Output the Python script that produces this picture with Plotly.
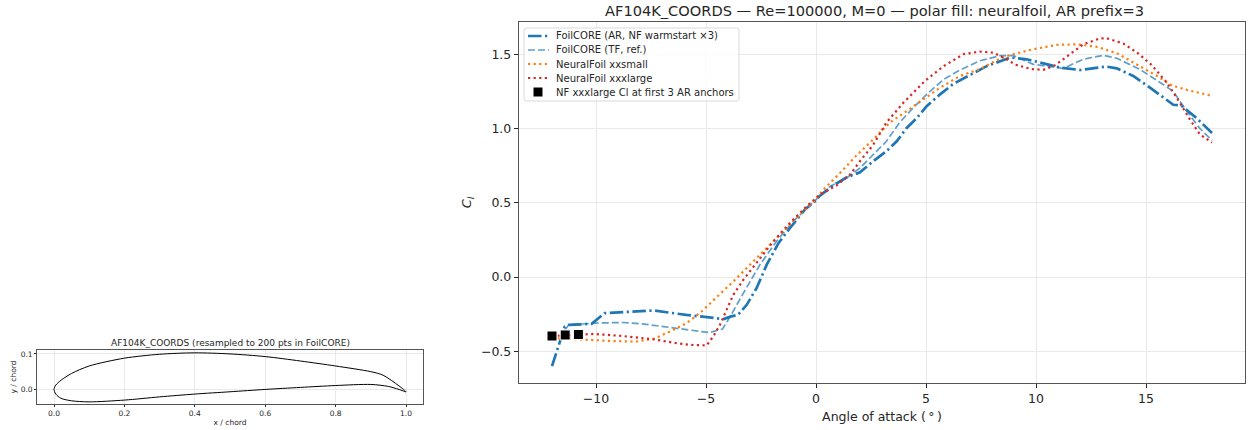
import plotly.graph_objects as go

ar_a = [-12,-11.42,-11.24,-10.2,-9.6,-8.5,-7.4,-5.9,-4.6,-4.2,-3.85,-3.55,-3.15,-2.7,-2.24,-1.7,-1.18,-0.5,-0.05,0.18,0.79,1.39,2.0,2.6,3.2,3.67,4.1,4.58,5.03,5.64,6.24,7,7.76,8.5,8.82,9.58,10.33,11.1,12,13.2,13.67,14.42,15.18,15.8,16.24,16.6,17.3,18]
ar_c = [-0.6,-0.333,-0.322,-0.315,-0.243,-0.233,-0.225,-0.255,-0.275,-0.283,-0.265,-0.255,-0.187,-0.074,0.083,0.23,0.33,0.455,0.51,0.548,0.617,0.671,0.705,0.78,0.847,0.914,1.0,1.07,1.15,1.23,1.30,1.36,1.42,1.46,1.478,1.466,1.437,1.41,1.394,1.417,1.405,1.354,1.275,1.207,1.16,1.155,1.07,0.97]
tf_a = [-11.42,-11.24,-10.06,-8.8,-7.9,-6.8,-5.75,-4.85,-4.25,-3.9,-3.3,-2.55,-1.8,-1.03,-0.12,0.64,1.39,2.0,2.6,3.2,3.8,4.42,5.03,5.8,6.5,7.45,8.36,8.97,9.88,11.24,12.15,13.06,13.67,14.7,15.64,16.24,16.85,17.45,18]
tf_c = [-0.36,-0.322,-0.31,-0.306,-0.315,-0.338,-0.36,-0.374,-0.35,-0.266,-0.108,0.083,0.24,0.376,0.505,0.61,0.667,0.734,0.824,0.914,1.04,1.14,1.23,1.33,1.39,1.456,1.49,1.49,1.432,1.405,1.466,1.493,1.473,1.4,1.31,1.25,1.117,1.0,0.92]
xs_a = [-12,-10.8,-9.4,-8.2,-7.35,-6.64,-5.88,-5.2,-4.44,-3.68,-3,-2.32,-1.48,-0.73,-0.12,0.33,1.09,1.85,2.6,3.36,4.12,4.88,5.64,6.55,7.45,8.36,8.82,9.88,10.94,11.85,12.76,13.67,14.58,15.5,16.17,16.85,18]
xs_c = [-0.41,-0.42,-0.43,-0.435,-0.415,-0.367,-0.31,-0.232,-0.126,-0.018,0.083,0.185,0.31,0.42,0.505,0.588,0.70,0.82,0.926,1.04,1.117,1.196,1.275,1.354,1.40,1.47,1.495,1.534,1.563,1.567,1.55,1.507,1.43,1.354,1.29,1.26,1.22]
xl_a = [-12,-10.1,-8.8,-7.35,-6.4,-5.73,-4.97,-4.67,-4.36,-4.06,-3.76,-3.3,-2.7,-1.94,-1.18,-0.42,0.18,0.94,1.55,2,2.6,3.2,3.97,4.95,5.8,6.7,7.45,8.06,8.8,9.05,9.8,10.33,10.86,11.55,12.15,12.9,13.2,13.97,14.65,15.26,15.94,16.4,17,17.45,18]
xl_c = [-0.397,-0.383,-0.397,-0.42,-0.444,-0.457,-0.46,-0.4,-0.32,-0.22,-0.12,-0.018,0.095,0.24,0.365,0.477,0.555,0.617,0.69,0.78,0.89,1.04,1.173,1.32,1.42,1.5,1.518,1.51,1.455,1.43,1.40,1.395,1.425,1.5,1.567,1.606,1.608,1.572,1.505,1.427,1.31,1.207,1.06,0.96,0.905]
anchor_a = [-12,-11.4,-10.8]
anchor_c = [-0.397,-0.39,-0.387]
foil_x = [1.0,0.98,0.935,0.9,0.8,0.7,0.6,0.5,0.4,0.3,0.2,0.1,0.05,0.02,0.005,0.0,0.005,0.02,0.05,0.1,0.2,0.3,0.4,0.5,0.6,0.7,0.8,0.9,0.95,0.98,1.0]
foil_y = [-0.0066,0.01,0.04,0.05,0.066,0.08,0.0925,0.10,0.103,0.099,0.088,0.066,0.045,0.026,0.012,0.0,-0.013,-0.025,-0.032,-0.035,-0.03,-0.021,-0.013,-0.0066,0.0,0.0057,0.011,0.014,0.0085,0.0,-0.0066]
legend_labels = ["FoilCORE (AR, NF warmstart ×3)", "FoilCORE (TF, ref.)", "NeuralFoil xxsmall", "NeuralFoil xxxlarge", "NF xxxlarge Cl at first 3 AR anchors"]

W, H = 1249, 430
FONT = "DejaVu Sans"
INK = "#262626"
SPINE = "#555555"
GRID = "#e9e9e9"
AR = dict(color="#1f77b4", width=2.7, dash="13.5px,3.5px,2.2px,3.5px")
TF = dict(color="#1f77b4", width=1.7, dash="7px,3px")
XS = dict(color="#ff7f0e", width=2.2, dash="2.2px,3.4px")
XL = dict(color="#d62728", width=2.2, dash="2.2px,3.4px")

fig = go.Figure()
fig.add_trace(go.Scatter(x=foil_x, y=foil_y, mode="lines", line=dict(color="black", width=1, shape="spline", smoothing=0.8),
                         xaxis="x2", yaxis="y2", showlegend=False))
fig.add_trace(go.Scatter(x=ar_a, y=ar_c, mode="lines", name=legend_labels[0], line=AR, showlegend=False))
fig.add_trace(go.Scatter(x=tf_a, y=tf_c, mode="lines", name=legend_labels[1], opacity=0.7, line=TF, showlegend=False))
fig.add_trace(go.Scatter(x=xs_a, y=xs_c, mode="lines", name=legend_labels[2], line=XS, showlegend=False))
fig.add_trace(go.Scatter(x=xl_a, y=xl_c, mode="lines", name=legend_labels[3], line=XL, showlegend=False))
fig.add_trace(go.Scatter(x=anchor_a, y=anchor_c, mode="markers", name=legend_labels[4], showlegend=False,
                         marker=dict(symbol="square", color="black", size=10, line=dict(color="white", width=1))))

def dom(a, b, total):
    return [a / total, b / total]

def px(x):
    return x / W

def py(y):
    return 1 - y / H

common = dict(showline=True, linecolor=SPINE, mirror=True, ticks="outside", tickcolor=INK,
              showgrid=True, gridcolor=GRID, zeroline=False)

# legend drawn by hand: plotly's own legend cannot set the tight row pitch of the reference
L, R, T, B, C = 524, 739, 28, 101, 2.5
shapes = [dict(type="path", xref="paper", yref="paper", layer="above",
               path=(f"M {px(L+C)} {py(T)} L {px(R-C)} {py(T)} Q {px(R)} {py(T)} {px(R)} {py(T+C)} "
                     f"L {px(R)} {py(B-C)} Q {px(R)} {py(B)} {px(R-C)} {py(B)} L {px(L+C)} {py(B)} "
                     f"Q {px(L)} {py(B)} {px(L)} {py(B-C)} L {px(L)} {py(T+C)} Q {px(L)} {py(T)} {px(L+C)} {py(T)} Z"),
               line=dict(color="#d9d9d9", width=1), fillcolor="rgba(255,255,255,0.8)")]
rows = [36, 50, 64, 78, 92]
for yy, st, op in zip(rows[:4], [AR, TF, XS, XL], [1, 0.7, 1, 1]):
    shapes.append(dict(type="line", xref="paper", yref="paper", layer="above", x0=px(528), x1=px(549), y0=py(yy), y1=py(yy),
                       opacity=op, line=dict(color=st["color"], width=st["width"], dash=st["dash"])))
shapes.append(dict(type="rect", xref="paper", yref="paper", layer="above", x0=px(533.5), x1=px(542.5), y0=py(96.5), y1=py(87.5),
                   fillcolor="black", line=dict(color="black", width=0)))
annotations = [
    dict(text="AF104K_COORDS — Re=100000, M=0 — polar fill: neuralfoil, AR prefix=3", x=874 / W, y=py(10),
         xref="paper", yref="paper", xanchor="center", yanchor="middle", showarrow=False, font=dict(size=14.6, family=FONT, color=INK)),
    dict(text="AF104K_COORDS (resampled to 200 pts in FoilCORE)", x=230 / W, y=py(343),
         xref="paper", yref="paper", xanchor="center", yanchor="middle", showarrow=False, font=dict(size=9, family=FONT, color=INK)),
]
for yy, t in zip(rows, legend_labels):
    annotations.append(dict(text=t, x=px(555), y=py(yy), xref="paper", yref="paper", xanchor="left", yanchor="middle",
                            showarrow=False, borderpad=0, font=dict(size=10, family=FONT, color=INK)))

fig.update_layout(
    width=W, height=H, margin=dict(l=0, r=0, t=0, b=0), paper_bgcolor="white", plot_bgcolor="white",
    font=dict(family=FONT, color=INK), showlegend=False, shapes=shapes, annotations=annotations,
    xaxis=dict(domain=dom(519, 1245, W), range=[-13.5, 19.5], tickvals=[-10, -5, 0, 5, 10, 15],
               ticktext=["−10", "−5", "0", "5", "10", "15"], ticklen=4, tickwidth=1, linewidth=1.4,
               gridwidth=1.2, title=dict(text="Angle of attack (\u2009°\u2009)", font=dict(size=12.5), standoff=7),
               tickfont=dict(family=FONT, color=INK, size=12.5), **common),
    yaxis=dict(domain=[py(382.5), py(22.3)], range=[-0.71, 1.715], tickvals=[-0.5, 0, 0.5, 1, 1.5],
               ticktext=["−0.5", "0.0", "0.5", "1.0", "1.5"], ticklen=4, tickwidth=1, linewidth=1.4,
               gridwidth=1.2, title=dict(text="<i>C<sub>l</sub></i>", font=dict(size=13), standoff=6),
               tickfont=dict(family=FONT, color=INK, size=12.5), **common),
    xaxis2=dict(domain=dom(37, 423, W), range=[-0.0483, 1.0483], anchor="y2", tickvals=[0, 0.2, 0.4, 0.6, 0.8, 1.0],
                ticktext=["0.0", "0.2", "0.4", "0.6", "0.8", "1.0"], ticklen=2, tickwidth=0.7, linewidth=0.8, gridwidth=0.6,
                title=dict(text="x / chord", font=dict(size=7.5), standoff=2),
                tickfont=dict(family=FONT, color=INK, size=7.5), **common),
    yaxis2=dict(domain=[py(404), py(350)], range=[-0.041, 0.111], anchor="x2", tickvals=[0, 0.1],
                ticktext=["0.0", "0.1"], ticklen=2, tickwidth=0.7, linewidth=0.8, gridwidth=0.6,
                title=dict(text="y / chord", font=dict(size=7.5), standoff=3),
                tickfont=dict(family=FONT, color=INK, size=7.5), **common),
)
fig.write_html("out.html", config=dict(displayModeBar=False), post_script="document.body.style.margin='0';")
